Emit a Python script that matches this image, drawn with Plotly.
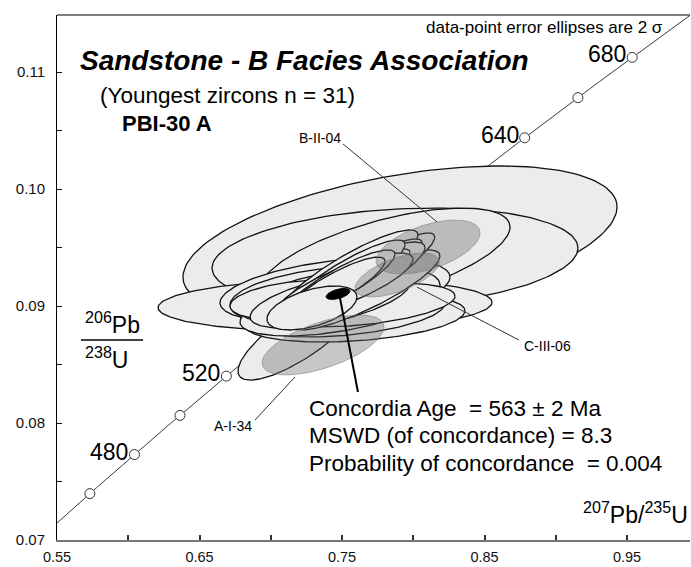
import numpy as np
import plotly.graph_objects as go

# ---------------- data ----------------
L238 = 1.55125e-10   # decay constants (1/yr)
L235 = 9.8485e-10
curve_ages = list(range(430, 721))                                  # Ma, concordia sampling
marker_ages = [460, 480, 500, 520, 540, 560, 580, 600, 620, 640, 660, 680]
label_ages = [480, 520, 640, 680]

# light (accepted) error ellipses: centre, 2-sigma half-widths, correlation (drawing order)
ell_x   = [0.7907, 0.7872, 0.7802, 0.7205, 0.7381, 0.7451, 0.7451, 0.7486, 0.7591, 0.7521, 0.7451,
           0.7626, 0.7311, 0.7416, 0.7205, 0.7416, 0.7661, 0.7765, 0.7556, 0.7626, 0.7591, 0.7570,
           0.7521, 0.7521, 0.7486, 0.7451, 0.7289]
ell_y   = [0.09547, 0.09410, 0.09410, 0.08752, 0.09009, 0.09137, 0.09085, 0.09051, 0.08897, 0.08949, 0.08983,
           0.09009, 0.09051, 0.09120, 0.09051, 0.09051, 0.09137, 0.09325, 0.09291, 0.09265, 0.09222, 0.09205,
           0.09239, 0.09179, 0.09197, 0.09162, 0.08983]
ell_sx  = [0.1523, 0.1284, 0.0877, 0.0435, 0.1172, 0.0807, 0.0737, 0.0702, 0.0772, 0.0702, 0.0667,
           0.0667, 0.0526, 0.0421, 0.0491, 0.0561, 0.0526, 0.0386, 0.0477, 0.0435, 0.0491, 0.0407,
           0.0421, 0.0477, 0.0386, 0.0351, 0.0316]
ell_sy  = [0.00650, 0.00427, 0.00427, 0.00385, 0.00222, 0.00274, 0.00256, 0.00282, 0.00205, 0.00214, 0.00239,
           0.00188, 0.00188, 0.00222, 0.00171, 0.00239, 0.00342, 0.00299, 0.00359, 0.00308, 0.00325, 0.00282,
           0.00325, 0.00274, 0.00282, 0.00256, 0.00188]
ell_rho = [0.46, 0.20, 0.62, 0.80, 0.10, 0.40, 0.30, 0.45, 0.30, 0.35, 0.50,
           0.40, 0.50, 0.75, 0.30, 0.60, 0.85, 0.88, 0.88, 0.90, 0.85, 0.90,
           0.88, 0.80, 0.87, 0.86, 0.50]

# grey (labelled / discordant) ellipses
gry_x   = [0.7367, 0.7886, 0.8104]
gry_y   = [0.08667, 0.09265, 0.09504]
gry_sx  = [0.0428, 0.0295, 0.0365]
gry_sy  = [0.00256, 0.00188, 0.00231]
gry_rho = [0.60, 0.60, 0.52]

# concordia age ellipse
cc_x, cc_y, cc_sx, cc_sy, cc_rho = 0.7472, 0.09103, 0.0084, 0.00047, 0.5

# spot labels: text, text anchor, leader start, leader end
spot_names = ["B-II-04", "A-I-34", "C-III-06"]
spot_text_xy = [(0.7346, 0.10436), (0.6735, 0.07974), (0.8763, 0.08658)]
spot_anchor = ["center", "center", "left"]
spot_lead_from = [(0.7507, 0.10385), (0.6890, 0.08026), (0.8742, 0.08709)]
spot_lead_to = [(0.8167, 0.09718), (0.7170, 0.08393), (0.8026, 0.09162)]

result_lines = ["Concordia Age  = 563 ± 2 Ma",
                "MSWD (of concordance) = 8.3",
                "Probability of concordance  = 0.004"]
result_x = 0.7254
result_y = [0.08128, 0.07889, 0.07658]
result_leader = [(0.7486, 0.09068), (0.7612, 0.08265)]

x_major = [0.55, 0.65, 0.75, 0.85, 0.95]
x_labels = ["0.55", "0.65", "0.75", "0.85", "0.95"]
y_major = [0.07, 0.08, 0.09, 0.10, 0.11]
y_labels = ["0.07", "0.08", "0.09", "0.10", "0.11"]

# ---------------- helpers ----------------
FONT = "Liberation Sans, Arial, sans-serif"
W, H = 691, 567
ML, MR, MT, MB = 57, 1, 15, 27
X0, X1 = 0.55, 0.55 + (W - ML - MR) / 1425.0
Y0, Y1 = 0.07, 0.07 + (H - MT - MB) / 11700.0


def conc(t_ma):
    t = np.asarray(t_ma, dtype=float) * 1e6
    return np.exp(L235 * t) - 1.0, np.exp(L238 * t) - 1.0


def ellipse(cx, cy, sx, sy, rho, n=180):
    t = np.linspace(0, 2 * np.pi, n)
    x = cx + sx * np.cos(t)
    y = cy + sy * (rho * np.cos(t) + np.sqrt(1 - rho ** 2) * np.sin(t))
    return x, y


def px(xp):
    return (xp - ML) / (W - ML - MR)


def py(yp):
    return (H - MB - yp) / (H - MT - MB)


fig = go.Figure()

# concordia curve and age markers (under the ellipses)
cx_, cy_ = conc(curve_ages)
fig.add_trace(go.Scatter(x=cx_, y=cy_, mode="lines", line=dict(color="#222", width=0.9),
                         hoverinfo="skip", showlegend=False))
mx, my = conc(marker_ages)
fig.add_trace(go.Scatter(x=mx, y=my, mode="markers",
                         marker=dict(size=10, color="white", line=dict(color="#333", width=1)),
                         hoverinfo="skip", showlegend=False))

for i in range(len(ell_x)):
    ex, ey = ellipse(ell_x[i], ell_y[i], ell_sx[i], ell_sy[i], ell_rho[i])
    fig.add_trace(go.Scatter(x=ex, y=ey, mode="lines", fill="toself", fillcolor="#ececec",
                             line=dict(color="#111", width=1.3), hoverinfo="skip", showlegend=False))

for i in range(len(gry_x)):
    ex, ey = ellipse(gry_x[i], gry_y[i], gry_sx[i], gry_sy[i], gry_rho[i])
    fig.add_trace(go.Scatter(x=ex, y=ey, mode="lines", fill="toself", fillcolor="rgba(100,100,100,0.36)",
                             line=dict(color="rgba(120,120,120,0.55)", width=1), hoverinfo="skip",
                             showlegend=False))

ex, ey = ellipse(cc_x, cc_y, cc_sx, cc_sy, cc_rho)
fig.add_trace(go.Scatter(x=ex, y=ey, mode="lines", fill="toself", fillcolor="black",
                         line=dict(color="black", width=1), hoverinfo="skip", showlegend=False))

shapes = []
annotations = []

# age labels on concordia
lx, ly = conc(label_ages)
for a, xx, yy in zip(label_ages, lx, ly):
    annotations.append(dict(x=xx, y=yy, xref="x", yref="y", text=str(a), showarrow=False,
                            xanchor="right", yanchor="middle", xshift=-4, yshift=3,
                            font=dict(family=FONT, size=23, color="black")))

# spot labels
for name, (tx, ty), anc, (fx, fy), (tx2, ty2) in zip(spot_names, spot_text_xy, spot_anchor,
                                                     spot_lead_from, spot_lead_to):
    shapes.append(dict(type="line", xref="x", yref="y", x0=fx, y0=fy, x1=tx2, y1=ty2,
                       line=dict(color="#333", width=1)))
    annotations.append(dict(x=tx, y=ty, xref="x", yref="y", text=name, showarrow=False,
                            xanchor=anc, yanchor="middle",
                            font=dict(family=FONT, size=14, color="black")))

# result leader and text
shapes.append(dict(type="line", xref="x", yref="y", x0=result_leader[0][0], y0=result_leader[0][1],
                   x1=result_leader[1][0], y1=result_leader[1][1], line=dict(color="black", width=2)))
for line, yy in zip(result_lines, result_y):
    annotations.append(dict(x=result_x, y=yy, xref="x", yref="y", text=line, showarrow=False,
                            xanchor="left", yanchor="middle",
                            font=dict(family=FONT, size=22.5, color="black")))

# titles
annotations += [
    dict(x=px(78), y=py(60), xref="paper", yref="paper", text="<b><i>Sandstone - B Facies Association</i></b>",
         showarrow=False, xanchor="left", yanchor="middle", font=dict(family=FONT, size=28, color="black")),
    dict(x=px(98), y=py(95), xref="paper", yref="paper", text="(Youngest zircons n = 31)",
         showarrow=False, xanchor="left", yanchor="middle", font=dict(family=FONT, size=22.5, color="black")),
    dict(x=px(120), y=py(124), xref="paper", yref="paper", text="<b>PBI-30 A</b>",
         showarrow=False, xanchor="left", yanchor="middle", font=dict(family=FONT, size=22, color="black")),
    dict(x=px(665), y=py(27), xref="paper", yref="paper", text="data-point error ellipses are 2 σ",
         showarrow=False, xanchor="right", yanchor="middle", font=dict(family=FONT, size=17, color="black")),
    dict(x=px(112), y=py(323), xref="paper", yref="paper", text="<sup>206</sup>Pb",
         showarrow=False, xanchor="center", yanchor="middle", font=dict(family=FONT, size=23, color="black")),
    dict(x=px(106), y=py(358), xref="paper", yref="paper", text="<sup>238</sup>U",
         showarrow=False, xanchor="center", yanchor="middle", font=dict(family=FONT, size=23, color="black")),
    dict(x=1.0, y=py(513), xref="paper", yref="paper", text="<sup>207</sup>Pb/<sup>235</sup>U",
         showarrow=False, xanchor="right", yanchor="middle", font=dict(family=FONT, size=23, color="black")),
]
shapes.append(dict(type="line", xref="paper", yref="paper", x0=px(81), x1=px(143), y0=py(340), y1=py(340),
                   line=dict(color="black", width=1.5)))
# top frame line
shapes.append(dict(type="line", xref="paper", yref="paper", x0=0, x1=1, y0=1, y1=1,
                   line=dict(color="black", width=1)))

fig.update_layout(
    width=W, height=H, margin=dict(l=ML, r=MR, t=MT, b=MB, autoexpand=False),
    paper_bgcolor="white", plot_bgcolor="white",
    showlegend=False, shapes=shapes, annotations=annotations,
    xaxis=dict(range=[X0, X1], tickmode="array", tickvals=x_major, ticktext=x_labels,
               ticks="inside", ticklen=5, tickwidth=1.5, tickcolor="#333",
               minor=dict(tickmode="linear", tick0=0.55, dtick=0.05, ticks="inside", ticklen=5,
                          tickwidth=1.5, tickcolor="#333", showgrid=False),
               showgrid=False, zeroline=False, showline=True, automargin=False,
               linecolor="#777", linewidth=2, tickfont=dict(family=FONT, size=14.5, color="#111"),
               ticklabelstandoff=3),
    yaxis=dict(range=[Y0, Y1], tickmode="array", tickvals=y_major, ticktext=y_labels,
               ticks="inside", ticklen=5, tickwidth=1.2, tickcolor="#111",
               minor=dict(tickmode="linear", tick0=0.07, dtick=0.005, ticks="inside", ticklen=5,
                          tickwidth=1.2, tickcolor="#111", showgrid=False),
               showgrid=False, zeroline=False, showline=True, automargin=False,
               linecolor="black", linewidth=1, tickfont=dict(family=FONT, size=15, color="#111"),
               ticklabelstandoff=8),
)

fig.write_html("out.html", config={"displayModeBar": False},
               post_script="document.body.style.margin='0px';document.body.style.padding='0px';")
